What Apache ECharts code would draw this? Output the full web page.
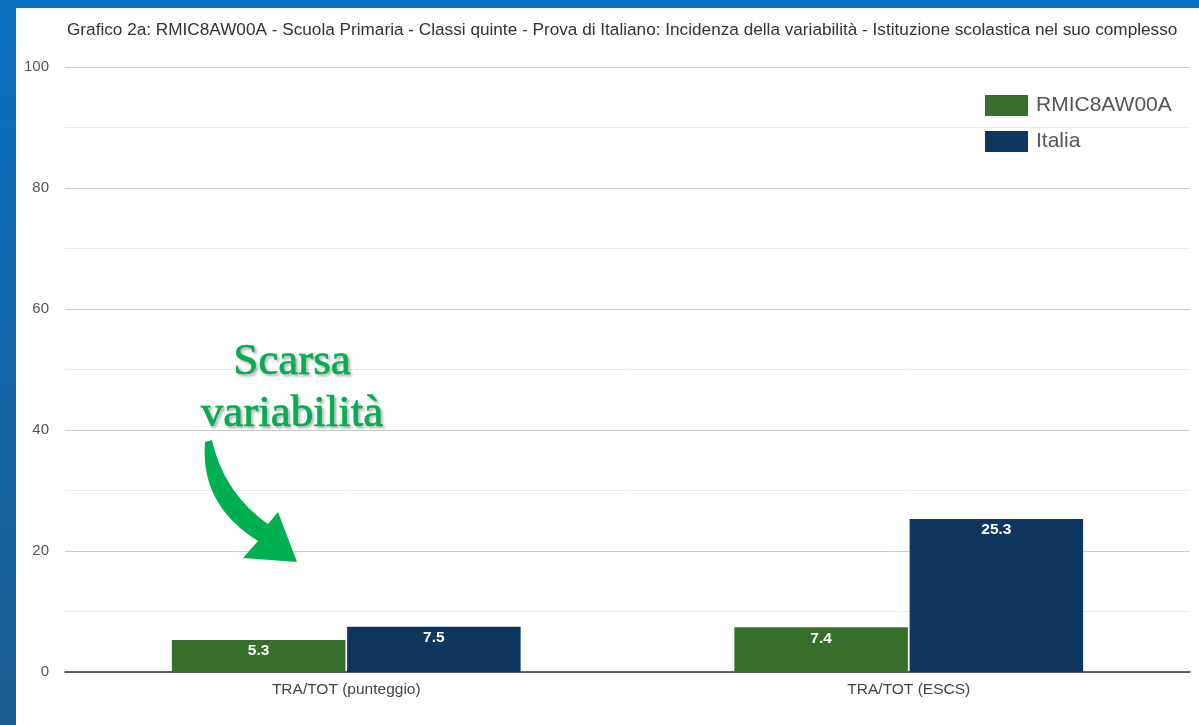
<!DOCTYPE html>
<html>
<head>
<meta charset="utf-8">
<script src="https://cdn.jsdelivr.net/npm/echarts@6/dist/echarts.min.js"></script>
<style>
  html, body { margin: 0; padding: 0; }
  body {
    width: 1199px; height: 725px; overflow: hidden; position: relative;
    background: linear-gradient(to bottom, #0b6fc0, #1b5d92);
  }
  #chart {
    position: absolute; left: 16px; top: 8px;
    width: 1183px; height: 717px; background: #fff;
  }
</style>
</head>
<body>
<div id="chart"></div>
<script>
// dati del grafico
const categories = ["TRA/TOT (punteggio)", "TRA/TOT (ESCS)"];
const scuolaValues = [5.3, 7.4];
const italiaValues = [7.5, 25.3];
const seriesNames = ["RMIC8AW00A", "Italia"];
const titolo = "Grafico 2a: RMIC8AW00A - Scuola Primaria - Classi quinte - Prova di Italiano: Incidenza della variabilità - Istituzione scolastica nel suo complesso";
const annotazione = "Scarsa\nvariabilità";

const chart = echarts.init(document.getElementById("chart"));

// freccia curva: due bordi quadratici + punta
function quad(p0, c, p1, n) {
  const pts = [];
  for (let i = 0; i <= n; i++) {
    const t = i / n, u = 1 - t;
    pts.push([u * u * p0[0] + 2 * u * t * c[0] + t * t * p1[0],
              u * u * p0[1] + 2 * u * t * c[1] + t * t * p1[1]]);
  }
  return pts;
}
const bordoEsterno = quad([189, 434], [184, 497], [242, 533], 24);
const bordoInterno = quad([252, 516], [208, 485], [196, 432], 24);
const frecciaPts = bordoEsterno
  .concat([[227, 550], [281, 554], [262, 504]])
  .concat(bordoInterno);

const labelStyle = {
  show: true,
  position: "insideTop",
  distance: 3,
  color: "#fff",
  fontSize: 15.5,
  fontWeight: "bold",
  fontFamily: "Arial, 'Liberation Sans', sans-serif"
};

const option = {
  animation: false,
  textStyle: { fontFamily: "Arial, 'Liberation Sans', sans-serif" },
  title: {
    text: titolo,
    left: 46,
    top: 9,
    textStyle: { fontSize: 17.2, fontWeight: "normal", color: "#333" }
  },
  legend: {
    orient: "vertical",
    left: 964,
    top: 82,
    itemWidth: 43,
    itemHeight: 21,
    itemGap: 15,
    icon: "rect",
    data: seriesNames,
    textStyle: { fontSize: 21, color: "#555", padding: [0, 0, 0, 3] }
  },
  grid: { left: 49, right: 9, top: 59, bottom: 53 },
  xAxis: {
    type: "category",
    data: categories,
    axisTick: { show: false },
    axisLine: { lineStyle: { color: "#333", width: 1.5 } },
    axisLabel: { fontSize: 15.5, color: "#444", margin: 10 }
  },
  yAxis: {
    type: "value",
    min: 0,
    max: 100,
    interval: 20,
    axisLabel: { fontSize: 15, color: "#555", margin: 16 },
    splitLine: { lineStyle: { color: "#ccc", width: 1 } },
    minorTick: { show: false, splitNumber: 2 },
    minorSplitLine: { show: true, lineStyle: { color: "#ebebeb", width: 1 } }
  },
  series: [
    {
      name: seriesNames[0],
      type: "bar",
      data: scuolaValues,
      barCategoryGap: "38%",
      barGap: "1%",
      itemStyle: { color: "#36702b" },
      label: labelStyle
    },
    {
      name: seriesNames[1],
      type: "bar",
      data: italiaValues,
      itemStyle: { color: "#0e365e" },
      label: labelStyle
    }
  ],
  graphic: [
    {
      type: "text",
      x: 276,
      y: 328,
      z: 10,
      style: {
        text: annotazione,
        align: "center",
        fontSize: 45,
        lineHeight: 52,
        fontFamily: "'Liberation Serif', 'Times New Roman', serif",
        fill: "#00b050",
        stroke: "#00b050",
        lineWidth: 0.6,
        textShadowColor: "rgba(0,0,0,0.3)",
        textShadowBlur: 3,
        textShadowOffsetX: 2,
        textShadowOffsetY: 2
      }
    },
    {
      type: "polygon",
      z: 10,
      shape: { points: frecciaPts },
      style: { fill: "#00b050" }
    }
  ]
};

chart.setOption(option);
</script>
</body>
</html>
